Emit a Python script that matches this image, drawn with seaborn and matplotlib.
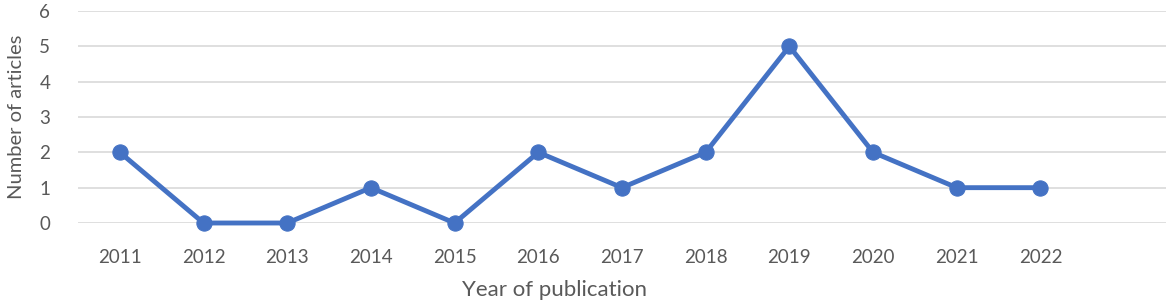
import matplotlib
matplotlib.use("Agg")
import matplotlib.pyplot as plt
import seaborn as sns
import pandas as pd

# datos
years = ['2011', '2012', '2013', '2014', '2015', '2016', '2017', '2018', '2019', '2020', '2021', '2022']
articles = [2, 0, 0, 1, 0, 2, 1, 2, 5, 2, 1, 1]

df = pd.DataFrame({'Year': years, 'Articles': articles})

sns.set_style('white')
plt.rcParams['font.family'] = ['Lato', 'DejaVu Sans']

gris = '#595959'
azul = '#4472C4'

fig = plt.figure(figsize=(11.7, 3.06), dpi=100)
ax = fig.add_axes([78 / 1170, 1 - 223 / 306, (1166 - 78) / 1170, 212 / 306])

sns.lineplot(data=df, x='Year', y='Articles', ax=ax, color=azul, linewidth=3.5,
             marker='o', markersize=11, markeredgecolor=azul, clip_on=False, zorder=3)

ax.set_xlim(-0.5, 12.5)
ax.set_ylim(0, 6)
ax.set_yticks(range(0, 7))
ax.yaxis.grid(True, color='#d9d9d9', linewidth=1.2)
ax.set_axisbelow(True)
for s in ax.spines.values():
    s.set_visible(False)

ax.tick_params(axis='both', length=0, labelsize=13.5, colors=gris)
ax.tick_params(axis='x', pad=19)
ax.tick_params(axis='y', pad=20)
ax.set_xlabel('Year of publication', fontsize=16, color=gris)
ax.xaxis.set_label_coords((555 - 78) / 1088, -0.316)
ax.xaxis.label.set_va('center')
ax.set_ylabel('Number of articles', fontsize=14.5, color=gris, labelpad=10)

fig.savefig('out.png', dpi=100)
